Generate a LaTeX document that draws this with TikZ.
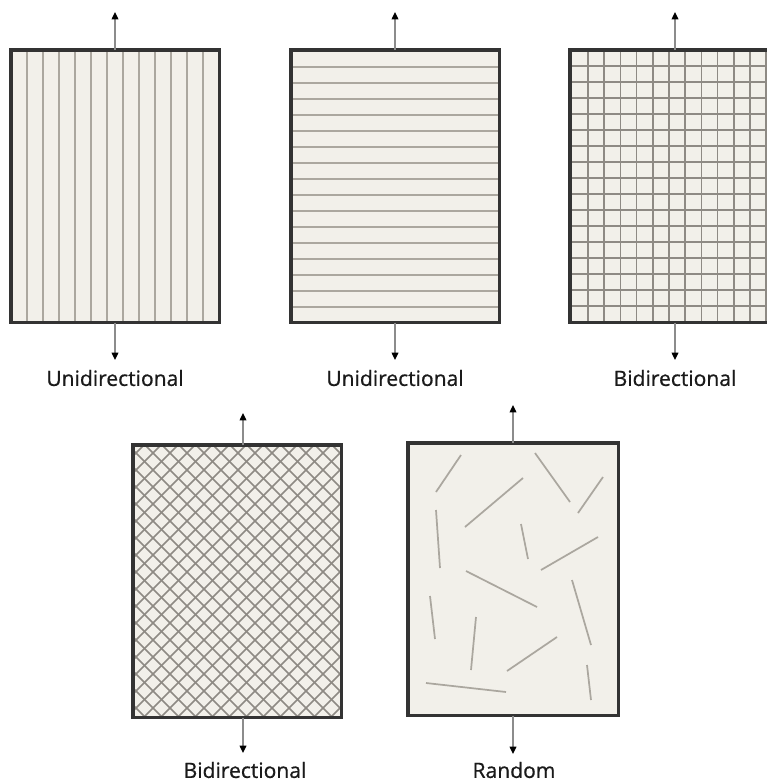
\documentclass[tikz,border=0pt]{standalone}
\usepackage{fontspec}
\setmainfont{Open Sans}
\newfontfamily\lblfont{Open Sans}[FakeBold=0.7]
\usepackage{xcolor}
\usetikzlibrary{arrows.meta}
\definecolor{paper}{HTML}{F2F0EA}
\definecolor{edge}{HTML}{333333}
\definecolor{fibregray}{HTML}{ABA79F}
\definecolor{meshgray}{HTML}{8E8A84}
\definecolor{shaft}{HTML}{8C8C8C}
\definecolor{ink}{HTML}{1A1A1A}

\begin{document}
\begin{tikzpicture}[
x=0.75pt,y=-0.75pt,
panel/.style={fill=paper,anchor=north west,inner sep=0pt,minimum width=156pt,minimum height=204pt},
rim/.style={draw=edge,line width=2.3pt},
fibre/.style={draw=fibregray,line width=1.3pt},
mesh/.style={draw=meshgray,line width=1.1pt},
pull/.style={draw=shaft,line width=1pt,-{Triangle[length=5.5pt,width=5pt,color=black]}},
lbl/.style={font=\lblfont\fontsize{15.8}{19}\selectfont,text=ink}
]
\clip (0,0) rectangle (767,782);
\node[panel] (p1) at (11,50) {};
\node[panel] (p2) at (291,50) {};
\node[panel,minimum width=157.5pt] (p3) at (570,50) {};
\node[panel] (p4) at (133,445) {};
\node[panel,minimum width=157.5pt] (p5) at (408,443) {};
\begin{scope}
\clip (p1.south west) rectangle (p1.north east);
\foreach \x in {27,43,...,203} \draw[fibre] (\x,40) -- (\x,330);
\end{scope}
\begin{scope}
\clip (p2.south west) rectangle (p2.north east);
\foreach \y in {67,83,...,307} \draw[fibre] (280,\y) -- (510,\y);
\end{scope}
\begin{scope}
\clip (p3.south west) rectangle (p3.north east);
\foreach \x in {588,604.2,...,770} \draw[mesh] (\x,40) -- (\x,330);
\foreach \y in {66,82,...,306} \draw[mesh] (560,\y) -- (790,\y);
\end{scope}
\begin{scope}
\clip (p4.south west) rectangle (p4.north east);
\foreach \c in {-161,-144,...,345} \draw[mesh] (\c,445) -- ++(300,300);
\foreach \c in {127,144,...,640} \draw[mesh] (\c,445) -- ++(-300,300);
\end{scope}
\begin{scope}[fibre]
\draw (461,455) -- (436,492);
\draw (535,453) -- (570,502);
\draw (603,477) -- (578,513);
\draw (523,478) -- (465,527);
\draw (436,510) -- (440,568);
\draw (521,524) -- (528,559);
\draw (598,537) -- (541,570);
\draw (466,571) -- (537,607);
\draw (572,580) -- (591,645);
\draw (430,596) -- (435,639);
\draw (476,617) -- (471,670);
\draw (557,637) -- (507,671);
\draw (426,683) -- (506,692);
\draw (587,665) -- (591,700);
\end{scope}
\foreach \p in {p1,p2,p3,p4,p5} \draw[rim] (\p.south west) rectangle (\p.north east);
\coordinate (t1) at (115,12);
\coordinate (t2) at (395,12);
\coordinate (t3) at (675,12);
\coordinate (t4) at (243,413);
\coordinate (t5) at (513,405);
\coordinate (b1) at (115,360);
\coordinate (b2) at (395,360);
\coordinate (b3) at (675,360);
\coordinate (b4) at (243,753);
\coordinate (b5) at (513,754);
\foreach \i in {1,...,5} {
\draw[pull] (p\i.north -| t\i) -- (t\i);
\draw[pull] (p\i.south -| b\i) -- (b\i);
}
\node[lbl] (l1) at (115,378) {Unidirectional};
\node[lbl] (l2) at (395,378) {Unidirectional};
\node[lbl] (l3) at (675,378) {Bidirectional};
\node[lbl] (l4) at (245,770) {Bidirectional};
\node[lbl] (l5) at (514,770) {Random};
\end{tikzpicture}
\end{document}
